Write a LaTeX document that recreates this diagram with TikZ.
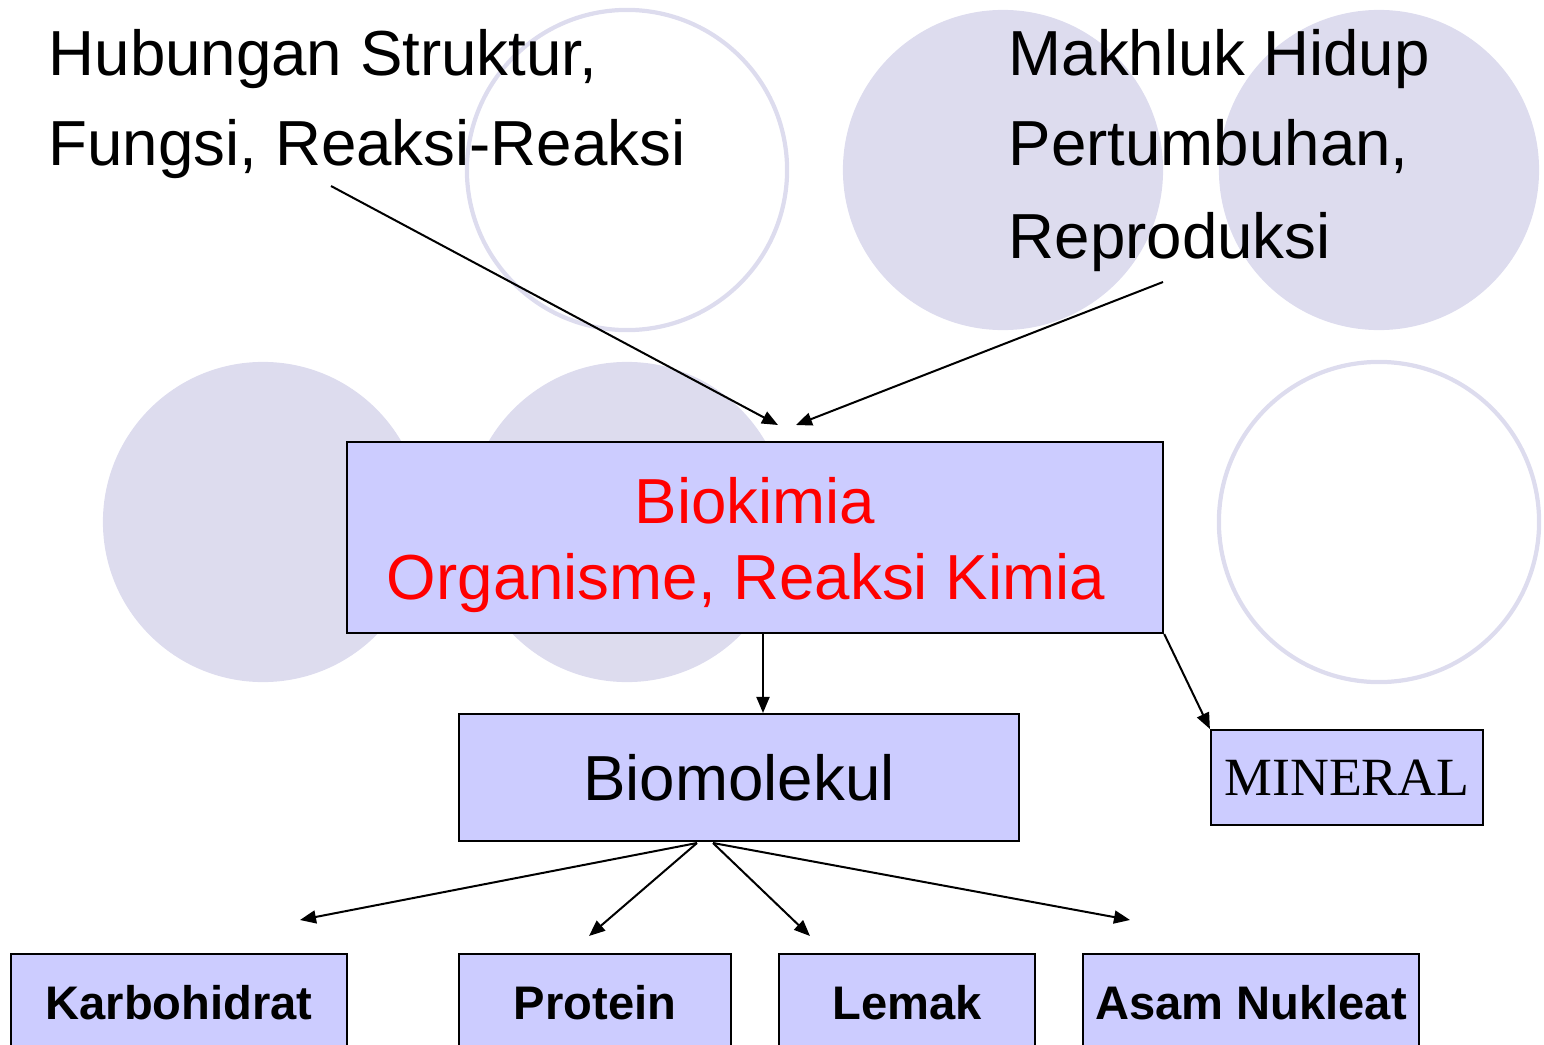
\documentclass[tikz,border=0pt]{standalone}
\usepackage{fontspec}
\setmainfont{Liberation Sans}
\newfontfamily\mineralfont{Liberation Serif}
\usetikzlibrary{arrows.meta}

\definecolor{boxfill}{RGB}{204,204,255}
\definecolor{blob}{RGB}{221,220,238}
\definecolor{bioRed}{RGB}{255,0,0}

\tikzset{
	box/.style={draw=black, line width=0.57pt, fill=boxfill, inner sep=0pt},
	topic/.style={anchor=base west, inner sep=0pt, font=\fontsize{18.1}{22}\selectfont},
	part/.style={box, minimum height=0.98cm, font=\bfseries\fontsize{13.4}{16}\selectfont},
	arr/.style={line width=0.57pt, -{Triangle[length=0.16cm,width=0.13cm]}},
	disc/.style={fill=blob},
	ring/.style={draw=blob, line width=1.2pt}
}

\begin{document}
\begin{tikzpicture}[x=0.01cm, y=-0.01cm]
	\useasboundingbox (0,0) rectangle (1544,1045);
	\clip (0,0) rectangle (1544,1045);

	%% BACKGROUND CIRCLES
	\path[ring] (627,170) circle (1.6cm);
	\path[disc] (1003,170) circle (1.6cm);
	\path[disc] (1379,170) circle (1.6cm);
	\path[disc] (263,522) circle (1.6cm);
	\path[disc] (627,522) circle (1.6cm);
	\path[ring] (1379,522) circle (1.6cm);

	%% TOP TEXTS
	\node[topic](struct_1) at (48,75){Hubungan Struktur,};
	\node[topic](struct_2) at (48,165){Fungsi, Reaksi-Reaksi};

	\node[topic](life_1) at (1008,75){Makhluk Hidup};
	\node[topic](life_2) at (1008,165){Pertumbuhan,};
	\node[topic](life_3) at (1008,258){Reproduksi};

	%% BIOKIMIA
	\node[box, minimum width=8.16cm, minimum height=1.91cm](bio) at (755,537.5){};
	\node[text=bioRed, align=center, font=\fontsize{18.1}{21.6}\selectfont](bio_text) at (755,545){Biokimia\\Organisme, Reaksi Kimia\hspace*{0.18cm}};

	\coordinate (struct_end) at (778,425);
	\coordinate (struct_start) at (331,186);
	\coordinate (life_end) at (796,425);
	\coordinate (life_start) at (1163,282);

	\draw[arr] (struct_start) -- (struct_end);
	\draw[arr] (life_start) -- (life_end);

	%% BIOMOLEKUL and MINERAL
	\node[box, minimum width=5.6cm, minimum height=1.27cm, font=\fontsize{18.1}{22}\selectfont](biomol) at (739,777.5){Biomolekul};
	\node[box, minimum width=2.72cm, minimum height=0.95cm, font=\mineralfont\fontsize{15.3}{18}\selectfont](mineral) at (1347,777.5){MINERAL};

	\coordinate (split) at (763,0);
	\draw[arr] (bio.south -| split) -- (biomol.north -| split);
	\draw[arr] (bio.south east) -- (mineral.north west);

	%% PARTS
	\node[part, minimum width=3.36cm](karbo) at (179,1003){Karbohidrat};
	\node[part, minimum width=2.72cm](protein) at (595,1003){Protein};
	\node[part, minimum width=2.56cm](lemak) at (907,1003){Lemak};
	\node[part, minimum width=3.36cm](asam) at (1251,1003){Asam Nukleat};

	\coordinate (fork_l) at (697,843);
	\coordinate (fork_r) at (713,843);
	\coordinate (karbo_end) at (300,920);
	\coordinate (protein_end) at (589,936);
	\coordinate (lemak_end) at (810,936);
	\coordinate (asam_end) at (1130,920);

	\draw[arr] (fork_l) -- (karbo_end);
	\draw[arr] (fork_l) -- (protein_end);
	\draw[arr] (fork_r) -- (lemak_end);
	\draw[arr] (fork_r) -- (asam_end);

\end{tikzpicture}
\end{document}
